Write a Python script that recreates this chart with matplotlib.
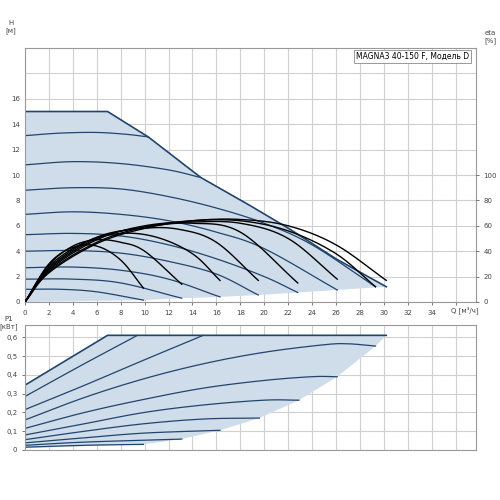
import numpy as np
import matplotlib
matplotlib.use("Agg")
import matplotlib.pyplot as plt

# ---------------- data ----------------
title_text = "MAGNA3 40-150 F, Модель D"
x_ticks = [0, 2, 4, 6, 8, 10, 12, 14, 16, 18, 20, 22, 24, 26, 28, 30, 32, 34]
h_ticks = [0, 2, 4, 6, 8, 10, 12, 14, 16]
eta_ticks = [0, 20, 40, 60, 80, 100]
p_ticks = [0, 0.1, 0.2, 0.3, 0.4, 0.5, 0.6]
p_tick_labels = ["0", "0,1", "0,2", "0,3", "0,4", "0,5", "0,6"]

h_envelope = [(0, 15), (6.9, 15), (10.3, 13.0), (14.7, 9.8), (18.8, 7.6), (22.2, 5.7), (26, 3.4), (30.2, 1.2)]
h_lower = [(30.2, 1.2), (26.1, 0.95), (22.8, 0.75), (19.5, 0.55), (16.3, 0.4), (13.1, 0.3), (9.9, 0.15), (0, 0)]
h_curves = [
    [(0, 13.1), (3, 13.3), (6, 13.35), (8.5, 13.2), (10.3, 13.0)],
    [(0, 10.8), (4, 11.05), (8, 10.9), (12, 10.4), (14.7, 9.8)],
    [(0, 8.8), (4, 9.0), (8, 8.9), (12, 8.3), (16, 7.4), (20, 6.2), (24, 4.5), (29.3, 1.2)],
    [(0, 6.9), (4, 7.1), (8, 6.9), (12, 6.4), (16, 5.5), (20, 4.2), (26.1, 0.95)],
    [(0, 5.3), (4, 5.4), (8, 5.2), (12, 4.5), (16, 3.4), (20, 2.0), (22.8, 0.75)],
    [(0, 4.0), (4, 4.05), (8, 3.85), (12, 3.2), (16, 2.2), (19.5, 0.55)],
    [(0, 2.7), (4, 2.75), (8, 2.5), (12, 1.8), (16.3, 0.4)],
    [(0, 1.8), (4, 1.8), (8, 1.5), (13.1, 0.3)],
    [(0, 1.0), (3, 1.0), (6, 0.8), (9.9, 0.15)],
]
eta_curves = [
    [(0, 0), (2, 30), (4, 43), (6, 44), (8, 33), (9.9, 11)],
    [(0, 0), (2, 29), (4, 44), (6, 49), (8, 47), (10, 40), (13.1, 14)],
    [(0, 0), (2, 28), (5, 47), (8, 54), (11, 51), (14, 38), (16.3, 17)],
    [(0, 0), (2, 27), (6, 51), (10, 58), (13, 57), (16, 47), (19.5, 17)],
    [(0, 0), (2, 26), (6, 50), (10, 59), (14, 62), (18, 55), (22.8, 15)],
    [(0, 0), (2, 25), (6, 49), (10, 60), (14, 63), (18, 62), (22, 50), (26.1, 18)],
    [(0, 0), (2, 24), (6, 47), (10, 59), (14, 64), (18, 64), (22, 56), (26, 38), (29.3, 12)],
    [(0, 0), (2, 23), (6, 46), (10, 58), (14, 64), (18, 65), (22, 60), (26, 45), (30.2, 17)],
]
p_envelope = [(0, 0.345), (6.9, 0.61), (30.2, 0.61)]
p_lower = [(30.2, 0.61), (29.3, 0.553), (26.1, 0.39), (22.9, 0.265), (19.6, 0.17), (16.3, 0.105), (13.1, 0.058), (9.9, 0.03), (0, 0.01)]
p_curves = [
    [(0, 0.285), (4.7, 0.45), (9.4, 0.61)],
    [(0, 0.215), (5, 0.345), (10, 0.48), (14.9, 0.61)],
    [(0, 0.16), (5, 0.28), (10, 0.38), (15, 0.46), (20, 0.52), (25, 0.56), (27, 0.565), (29.3, 0.553)],
    [(0, 0.115), (5, 0.2), (10, 0.27), (15, 0.33), (20, 0.37), (24, 0.39), (26.1, 0.39)],
    [(0, 0.08), (5, 0.14), (10, 0.2), (15, 0.24), (20, 0.265), (22.9, 0.265)],
    [(0, 0.055), (5, 0.1), (10, 0.14), (15, 0.165), (19.6, 0.17)],
    [(0, 0.038), (5, 0.065), (10, 0.09), (16.3, 0.105)],
    [(0, 0.025), (5, 0.042), (13.1, 0.058)],
    [(0, 0.015), (5, 0.025), (9.9, 0.03)],
]

# ---------------- helpers ----------------
def smooth(pts, n=20):
    p = np.array(pts, float)
    if len(p) < 3:
        return p[:, 0], p[:, 1]
    ext = np.vstack([2 * p[0] - p[1], p, 2 * p[-1] - p[-2]])
    out = []
    t = np.linspace(0, 1, n, endpoint=False)[:, None]
    for i in range(1, len(ext) - 2):
        p0, p1, p2, p3 = ext[i - 1], ext[i], ext[i + 1], ext[i + 2]
        seg = 0.5 * ((2 * p1) + (-p0 + p2) * t + (2 * p0 - 5 * p1 + 4 * p2 - p3) * t ** 2
                     + (-p0 + 3 * p1 - 3 * p2 + p3) * t ** 3)
        out.append(seg)
    out.append(p[-1][None, :])
    o = np.vstack(out)
    return o[:, 0], o[:, 1]

FILL = "#cfdcea"
NAVY = "#22456e"
GRID = "#d0d0d0"
FS = 5

fig = plt.figure(figsize=(5, 5), dpi=100)
ax = fig.add_axes([0.05, 0.396, 0.902, 0.508])
axp = fig.add_axes([0.05, 0.10, 0.902, 0.25])

for a in (ax, axp):
    a.set_xlim(0, 37.7)
    a.set_xticks(np.arange(0, 38, 2))
    a.grid(True, color=GRID, lw=0.8)
    a.set_axisbelow(True)
    for s in a.spines.values():
        s.set_color("#999999")
    a.tick_params(labelsize=FS, colors="#444444", length=2, width=0.5)

# top
ax.set_ylim(0, 20)
ax.set_yticks(np.arange(0, 20, 2))
ax.set_yticklabels([str(t) if t in h_ticks else "" for t in range(0, 20, 2)])
ax.set_xticklabels([str(t) if t in x_ticks else "" for t in range(0, 38, 2)])
ax.tick_params(axis="y", length=0)
poly = np.array(h_envelope + h_lower)
ax.fill(poly[:, 0], poly[:, 1], color=FILL, lw=0)
env = np.array(h_envelope)
ax.plot(env[:, 0], env[:, 1], color=NAVY, lw=1.2)
for c in h_curves:
    x, y = smooth(c)
    ax.plot(x, y, color=NAVY, lw=0.9)

axe = ax.twinx()
axe.set_ylim(0, 200)
axe.set_yticks(eta_ticks)
axe.tick_params(labelsize=FS, colors="#444444", length=2, width=0.5)
for s in axe.spines.values():
    s.set_visible(False)
for c in eta_curves:
    x, y = smooth(c)
    axe.plot(x, y, color="black", lw=1.0)

ax.text(36.8, -0.35, "Q [м³/ч]", fontsize=FS, ha="center", va="top", color="#444444")
ax.text(0.985, 0.985, title_text, transform=ax.transAxes, fontsize=FS + 0.5, ha="right", va="top",
        bbox=dict(facecolor="white", edgecolor="#888888", lw=0.6, pad=1.5))
fig.text(0.022, 0.96, "H\n[м]", fontsize=FS, ha="center", va="top", color="#444444", linespacing=1.2)
fig.text(0.98, 0.94, "eta\n[%]", fontsize=FS, ha="center", va="top", color="#444444", linespacing=1.2)

# bottom
axp.set_ylim(0, 0.665)
axp.set_yticks(p_ticks)
axp.set_yticklabels(p_tick_labels)
axp.set_xticklabels([])
axp.tick_params(axis="x", length=0)
poly = np.array(p_envelope + p_lower)
axp.fill(poly[:, 0], poly[:, 1], color=FILL, lw=0)
env = np.array(p_envelope)
axp.plot(env[:, 0], env[:, 1], color=NAVY, lw=1.2)
for c in p_curves:
    x, y = smooth(c)
    axp.plot(x, y, color=NAVY, lw=0.9)
fig.text(0.018, 0.368, "P1\n[кВт]", fontsize=FS, ha="center", va="top", color="#444444", linespacing=1.2)

fig.savefig("out.png", dpi=100)
